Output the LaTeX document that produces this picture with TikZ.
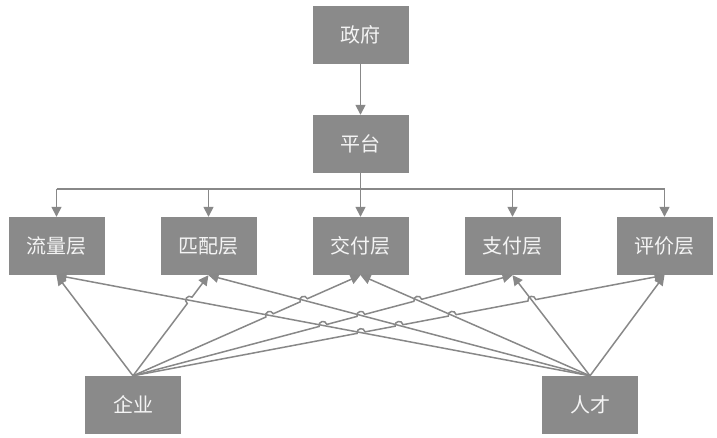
\documentclass[tikz,border=0pt]{standalone}
\usepackage{fontspec}
\newfontfamily\cjk{Noto Sans CJK SC}
\usetikzlibrary{arrows.meta,calc}
\definecolor{boxgray}{HTML}{8A8A8A}
\definecolor{linegray}{HTML}{888888}
\definecolor{txtcol}{HTML}{F4F4F4}
\begin{document}
\begin{tikzpicture}[x=1pt,y=-1pt,
  box/.style={fill=boxgray,minimum width=96pt,minimum height=58pt,inner sep=0pt,text=txtcol,font=\cjk\fontsize{20}{24}\selectfont},
  link/.style={draw=linegray,line width=1.5pt,-{Triangle[length=10pt,width=10pt]}},
  plain/.style={draw=linegray,line width=1.5pt},
  hop/.style={bend left=90,looseness=1.7}]
\useasboundingbox (0,0) rectangle (717,438);
% nodes
\node[box] (gov) at (360.5,35) {政府};
\node[box] (plat) at (360.5,144) {平台};
\node[box] (L1) at (56.5,246) {流量层};
\node[box] (L2) at (208.5,246) {匹配层};
\node[box] (L3) at (360.5,246) {交付层};
\node[box] (L4) at (512.5,246) {支付层};
\node[box] (L5) at (664.5,246) {评价层};
\node[box] (qy) at (133,405) {企业};
\node[box] (rc) at (590,405) {人才};
\coordinate (bus) at (360.5,189);
% top connectors
\draw[link] (gov.south) -- (plat.north);
\draw[link] (plat.south) -- (L3.north);
\draw[plain] (bus -| L1.north) -- (bus -| L5.north);
\foreach \n in {L1,L2,L4,L5}{
  \draw[link] (bus -| \n.north) -- (\n.north);
}
% 人才 lines
\foreach \n in {L1,L2,L3,L4,L5}{
  \draw[link] (rc.north) -- (\n.south);
}
% 企业 lines with hops
\draw[link] (qy.north) -- (L1.south);
\draw[link] (qy.north) foreach \s in {0.75041}{
  -- ($(qy.north)!{\s-0.0317}!(L2.south)$) to[hop] ($(qy.north)!{\s+0.0317}!(L2.south)$)
} -- (L2.south);
\draw[link] (qy.north) foreach \s in {0.60053,0.75041}{
  -- ($(qy.north)!{\s-0.01607}!(L3.south)$) to[hop] ($(qy.north)!{\s+0.01607}!(L3.south)$)
} -- (L3.south);
\draw[link] (qy.north) foreach \s in {0.50055,0.60053,0.75041}{
  -- ($(qy.north)!{\s-0.01019}!(L4.south)$) to[hop] ($(qy.north)!{\s+0.01019}!(L4.south)$)
} -- (L4.south);
\draw[link] (qy.north) foreach \s in {0.42911,0.50055,0.60053,0.75041}{
  -- ($(qy.north)!{\s-0.0074}!(L5.south)$) to[hop] ($(qy.north)!{\s+0.0074}!(L5.south)$)
} -- (L5.south);
\end{tikzpicture}
\end{document}
